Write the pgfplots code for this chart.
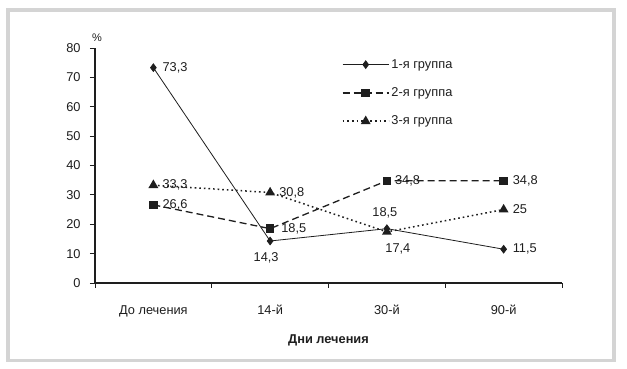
\documentclass[border=0pt]{standalone}
\usepackage{fontspec}
\setmainfont{Liberation Sans}
\usepackage{pgfplots}
\pgfplotsset{compat=1.18}
\definecolor{ink}{HTML}{1E1E1E}
\definecolor{frame}{HTML}{D4D4D4}
\newcommand{\fs}{\fontsize{12.8bp}{15bp}\selectfont}
\begin{document}
\fs
\begin{tikzpicture}
\useasboundingbox (0bp,0bp) rectangle (627bp,369bp);
\fill[white] (0bp,0bp) rectangle (627bp,369bp);
\draw[line width=3.5bp, frame] (8bp,8.5bp) rectangle (614bp,359bp);
\begin{axis}[
  at={(95bp,86bp)}, anchor=south west,
  scale only axis, width=467bp, height=235bp,
  xmin=-0.5, xmax=3.5, ymin=0, ymax=80,
  axis x line*=bottom, axis y line*=left,
  axis line style={line width=1.6bp, ink},
  ytick={0,10,...,80},
  xtick={-0.5,0.5,1.5,2.5,3.5},
  x tick label as interval,
  xticklabels={До лечения,14-й,30-й,90-й},
  tick align=outside, major tick length=5bp,
  tick style={line width=0.8bp, ink},
  /pgf/number format/assume math mode=true,
  yticklabel style={font=\fs, text=ink, xshift=-5bp},
  xticklabel style={font=\fs, text=ink, yshift=-13bp},
  xlabel={Дни лечения},
  xlabel style={font=\fs\bfseries, text=ink, yshift=-9bp},
  legend style={at={(0.522,0.97)}, anchor=north west, draw=none, fill=none,
    font=\fs, text=ink, row sep=13.5bp},
  legend cell align=left,
  legend image code/.code={\draw[mark repeat=2,mark phase=2,#1] plot coordinates {(0bp,0bp) (23bp,0bp) (46bp,0bp)};},
  clip=false,
]
\addplot[ink, line width=0.8bp, mark=diamond*, mark size=3.8bp, mark options={solid, fill=ink}]
  coordinates {(0,73.3) (1,14.3) (2,18.5) (3,11.5)};
\addlegendentry{1-я группа}
\addplot[ink, line width=1.3bp, dash pattern=on 7bp off 4bp, mark=square*, mark size=3.6bp, mark options={solid, fill=ink}]
  coordinates {(0,26.6) (1,18.5) (2,34.8) (3,34.8)};
\addlegendentry{2-я группа}
\addplot[ink, line width=1.5bp, dash pattern=on 1.6bp off 3bp, mark=triangle*, mark size=4.2bp, mark options={solid, fill=ink}]
  coordinates {(0,33.3) (1,30.8) (2,17.4) (3,25)};
\addlegendentry{3-я группа}
\begin{scope}[every node/.style={inner sep=0pt, text=ink, font=\fs}]
\node[anchor=west, xshift=9bp] at (axis cs:0,73.3) {73,3};
\node[anchor=west, xshift=9bp] at (axis cs:0,33.3) {33,3};
\node[anchor=west, xshift=9bp] at (axis cs:0,26.6) {26,6};
\node[anchor=west, xshift=9bp] at (axis cs:1,30.8) {30,8};
\node[anchor=west, xshift=11bp] at (axis cs:1,18.5) {18,5};
\node[xshift=-4bp, yshift=-17bp] at (axis cs:1,14.3) {14,3};
\node[anchor=west, xshift=8bp] at (axis cs:2,34.8) {34,8};
\node[xshift=-2bp, yshift=16bp] at (axis cs:2,18.5) {18,5};
\node[xshift=11bp, yshift=-17bp] at (axis cs:2,17.4) {17,4};
\node[anchor=west, xshift=9bp] at (axis cs:3,34.8) {34,8};
\node[anchor=west, xshift=9bp] at (axis cs:3,25) {25};
\node[anchor=west, xshift=9bp] at (axis cs:3,11.5) {11,5};
\node[anchor=south, yshift=6bp, xshift=2bp, font=\fontsize{11bp}{13bp}\selectfont] at (rel axis cs:0,1) {\%};
\end{scope}
\end{axis}
\end{tikzpicture}
\end{document}
